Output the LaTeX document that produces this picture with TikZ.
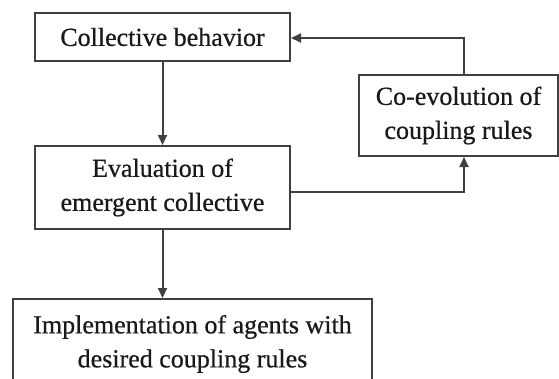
\documentclass[tikz,border=0pt]{standalone}
\usepackage{fontspec}
\setmainfont{Liberation Serif}[FakeBold=0.6]
\usetikzlibrary{arrows.meta}
\begin{document}
\begin{tikzpicture}[x=1pt,y=-1pt,
  box/.style={draw=black!75,line width=2pt,fill=white,inner sep=0pt,align=center,
    text=black!90,font=\fontsize{26}{34}\selectfont},
  conn/.style={draw=black!75,line width=2pt},
  arr/.style={conn,-{Triangle[length=10pt,width=9pt]}}]
\clip (0,0) rectangle (559,378);
\fill[white] (0,0) rectangle (559,378);
\node[box,minimum width=255pt,minimum height=48pt] (cb) at (162.5,37) {Collective behavior};
\node[box,minimum width=255pt,minimum height=83pt] (ev) at (162.5,187.5) {Evaluation of\\emergent collective};
\node[box,minimum width=359pt,minimum height=90pt,anchor=north] (im) at (192.5,298) {Implementation of agents with\\desired coupling rules};
\node[box,minimum width=199pt,minimum height=81pt] (co) at (458.5,115.5) {Co-evolution of\\coupling rules};
\coordinate (kx) at (464,0);
\coordinate (ky1) at (0,38);
\coordinate (ky2) at (0,192);
\draw[arr] (cb.south -| ev.north) -- (ev.north);
\draw[arr] (ev.south) -- (im.north -| ev.south);
\draw[arr] (co.north -| kx) |- (cb.east |- ky1);
\draw[arr] (ev.east |- ky2) -| (co.south -| kx);
\end{tikzpicture}
\end{document}
